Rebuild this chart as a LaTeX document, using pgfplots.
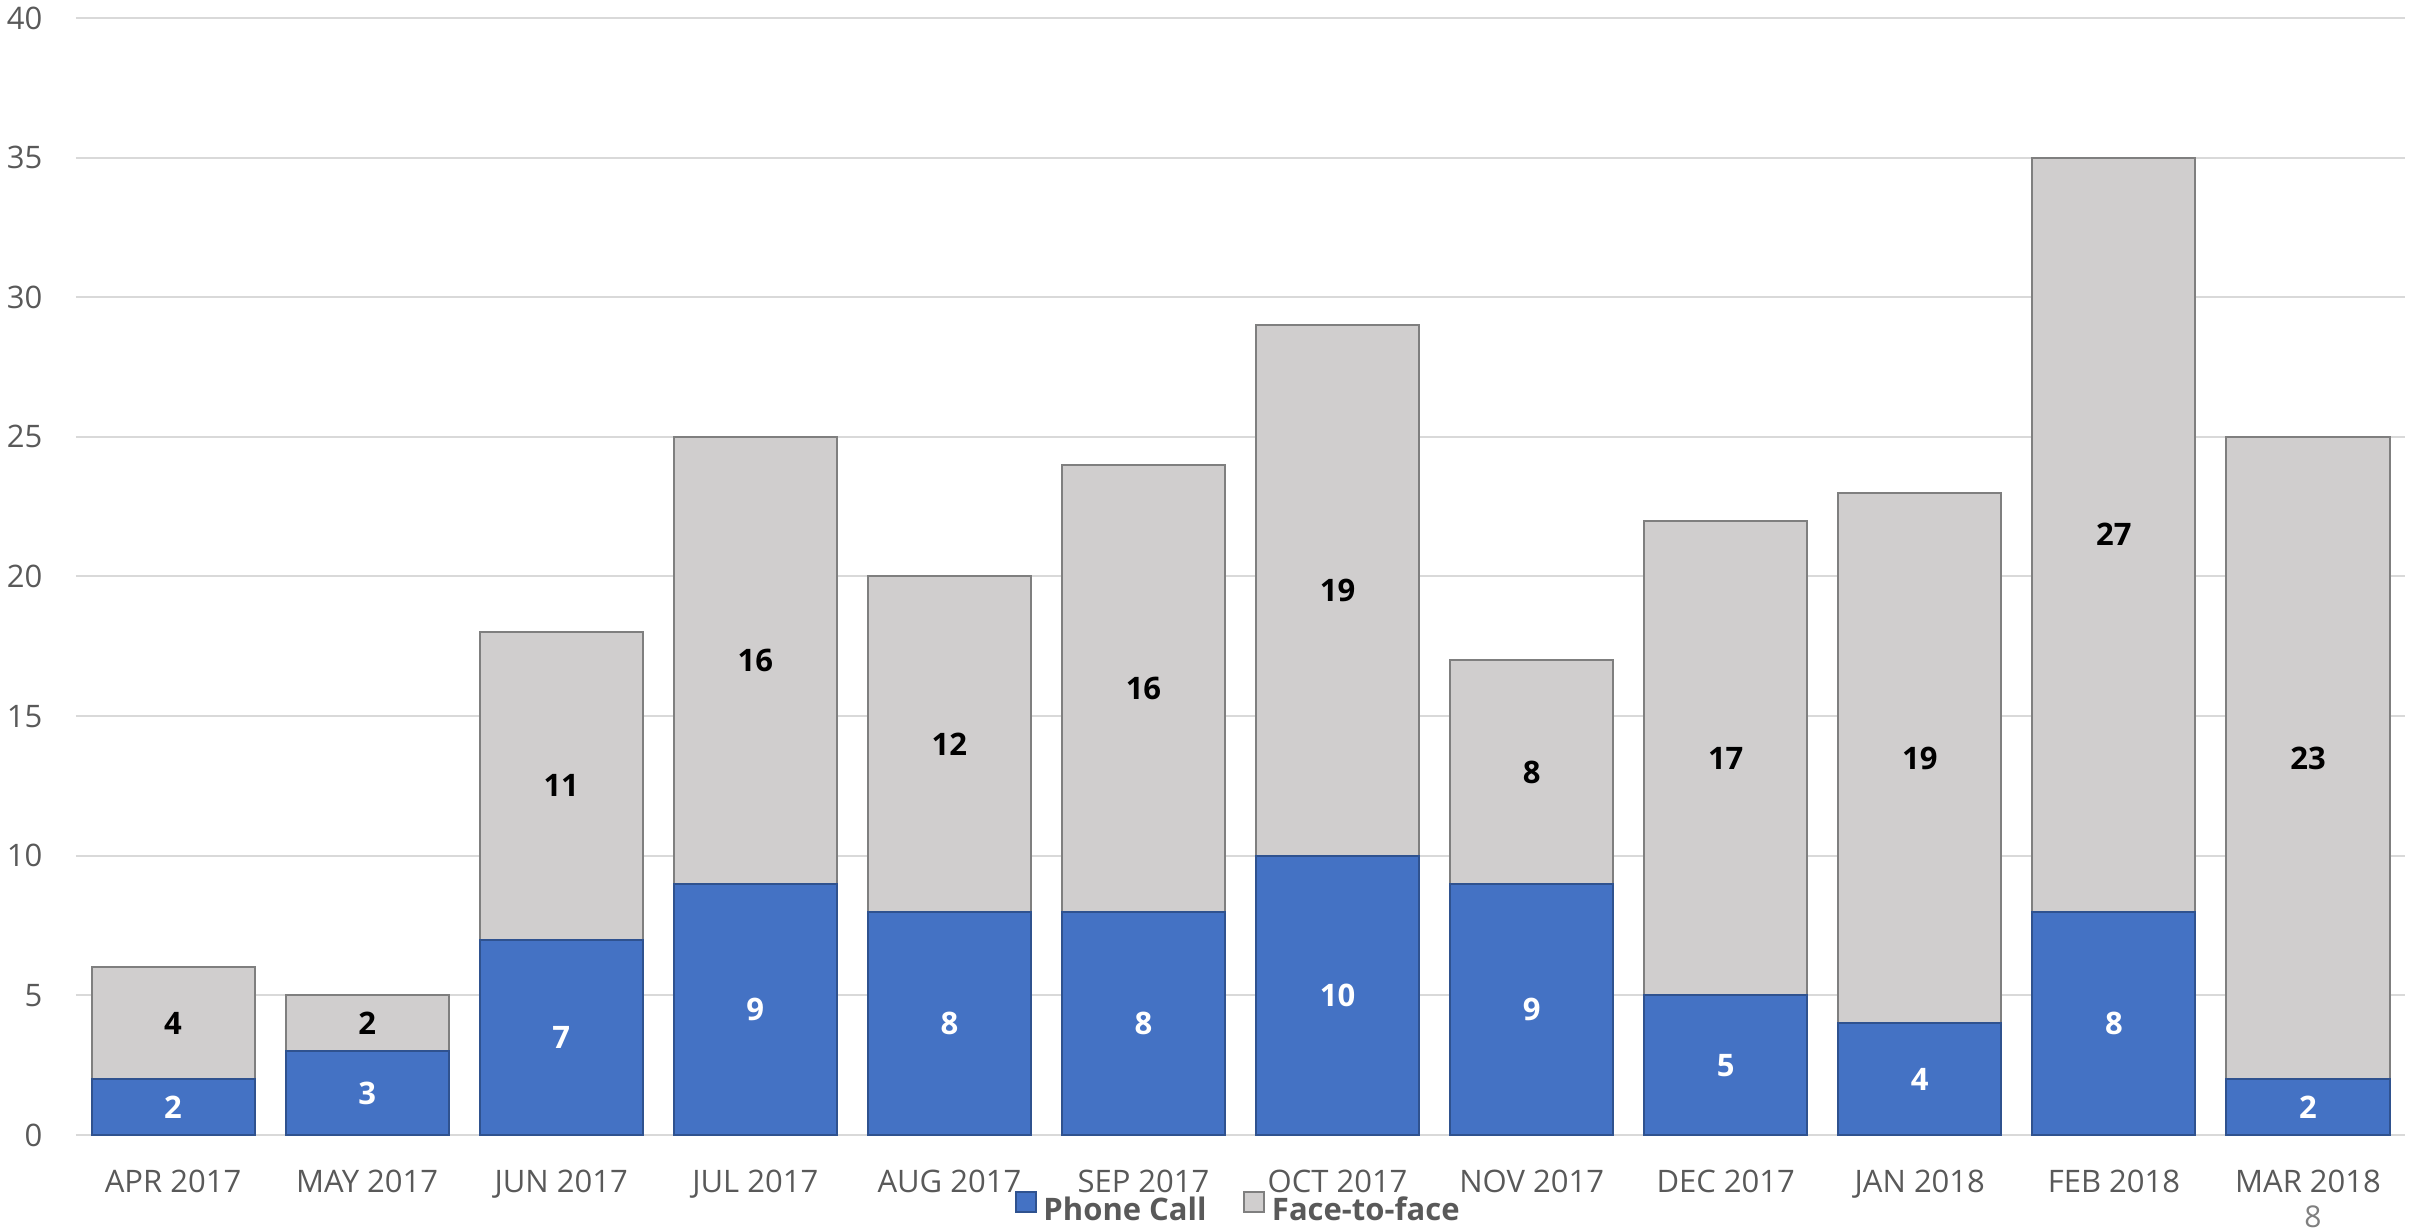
\documentclass[border=0pt]{standalone}
\usepackage{fontspec}
\setmainfont{Open Sans}
\usepackage{pgfplots}
\pgfplotsset{compat=1.18}
\definecolor{phone}{HTML}{4472C4}
\definecolor{phoneb}{HTML}{2F528F}
\definecolor{face}{HTML}{D0CECE}
\definecolor{faceb}{HTML}{7F7F7F}
\definecolor{txt}{HTML}{595959}
\definecolor{gridc}{HTML}{D9D9D9}
\begin{document}
\fontsize{9.3}{11}\selectfont
\begin{tikzpicture}
\pgfplotsset{
  base/.style={width=698.7pt, height=335.1pt, scale only axis,
    xmin=-0.5, xmax=11.5, ymin=0, ymax=40, clip=false},
  myleg/.style={legend image code/.code={\draw[##1, line width=0.6pt] (0pt,-0.3pt) rectangle (6pt,5.7pt);}}
}
\begin{axis}[base, name=ax, ybar stacked, bar width=48.9pt,
  axis line style={draw=none}, major tick length=0pt,
  ymajorgrids, grid style={gridc, line width=0.6pt},
  ytick={0,5,...,40}, xtick={0,...,11},
  xticklabels={APR 2017,MAY 2017,JUN 2017,JUL 2017,AUG 2017,SEP 2017,OCT 2017,NOV 2017,DEC 2017,JAN 2018,FEB 2018,MAR 2018},
  /pgf/number format/assume math mode=true,
  tick label style={font=\fontsize{9.3}{11}\selectfont, text=txt},
  yticklabel style={anchor=east, inner sep=0pt, xshift=-9.9pt},
  xticklabel style={anchor=base, inner sep=0pt, yshift=-17.4pt},
  legend style={at={(0.5,0)}, anchor=north, yshift=-16.4pt, draw=none, fill=none,
    inner sep=0pt, font=\bfseries\fontsize{9.3}{11}\selectfont, text=txt,
    /tikz/every even column/.append style={column sep=9pt}},
  legend columns=2, legend cell align=left,
]
\addplot[fill=phone, draw=phoneb, line width=0.6pt, myleg] coordinates {
(0,2) (1,3) (2,7) (3,9) (4,8) (5,8) (6,10) (7,9) (8,5) (9,4) (10,8) (11,2)};
\addplot[fill=face, draw=faceb, line width=0.6pt, myleg] coordinates {
(0,4) (1,2) (2,11) (3,16) (4,12) (5,16) (6,19) (7,8) (8,17) (9,19) (10,27) (11,23)};
\legend{Phone Call, Face-to-face}
\node[anchor=base, yshift=-27.9pt, text=faceb, font=\fontsize{9}{11}\selectfont] at (rel axis cs:0.9605,0) {8};
\end{axis}
\begin{axis}[base, at={(ax.south west)}, anchor=south west, hide axis]
\addplot[draw=none, mark=none, nodes near coords, point meta=explicit symbolic,
  every node near coord/.append style={anchor=center, inner sep=0pt, text=white, font=\bfseries\fontsize{9.3}{11}\selectfont}]
coordinates {(0,1)[2] (1,1.5)[3] (2,3.5)[7] (3,4.5)[9] (4,4)[8] (5,4)[8] (6,5)[10] (7,4.5)[9] (8,2.5)[5] (9,2)[4] (10,4)[8] (11,1)[2]};
\addplot[draw=none, mark=none, nodes near coords, point meta=explicit symbolic,
  every node near coord/.append style={anchor=center, inner sep=0pt, text=black, font=\bfseries\fontsize{9.3}{11}\selectfont}]
coordinates {(0,4)[4] (1,4)[2] (2,12.5)[11] (3,17)[16] (4,14)[12] (5,16)[16] (6,19.5)[19] (7,13)[8] (8,13.5)[17] (9,13.5)[19] (10,21.5)[27] (11,13.5)[23]};
\end{axis}
\pgfresetboundingbox
\path[use as bounding box] ([xshift=-22.8pt,yshift=-29.1pt]ax.south west) rectangle ([xshift=5.1pt,yshift=5.4pt]ax.north east);
\end{tikzpicture}
\end{document}
